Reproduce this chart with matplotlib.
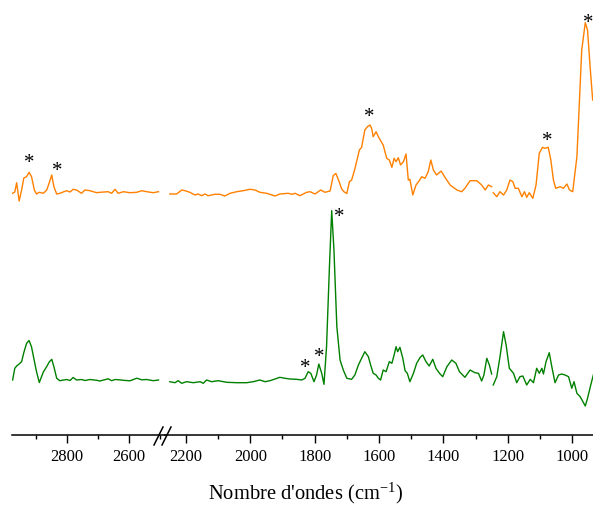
import numpy as np
import matplotlib
matplotlib.use("Agg")
import matplotlib.pyplot as plt
from matplotlib.lines import Line2D

plt.rcParams['font.family'] = ['Liberation Serif', 'DejaVu Serif']
plt.rcParams['mathtext.fontset'] = 'custom'
plt.rcParams['mathtext.rm'] = 'Liberation Serif'
plt.rcParams['mathtext.it'] = 'Liberation Serif:italic'

nan = np.nan

# ---------------- data (wavenumber cm-1, intensity a.u.) ----------------
wn_left = [2975, 2968, 2962, 2954, 2946, 2939, 2930, 2922, 2914, 2905,
           2898, 2889, 2876, 2865, 2857, 2849, 2842, 2833, 2823, 2801,
           2790, 2780, 2769, 2753, 2742, 2726, 2704, 2694, 2667, 2656,
           2645, 2635, 2618, 2597, 2575, 2559, 2543, 2522, 2505]
orange_left = [241.7, 243, 252.3, 234, 245, 257, 258.3, 262.7, 258.3, 245,
               241, 242.7, 241.7, 245, 252.3, 260, 248.3, 241, 241.7, 244.3,
               243, 245.7, 245, 241.7, 245, 244.3, 242.3, 242.7, 243.3, 241.7,
               245.7, 241.7, 243.3, 242.3, 242.7, 244.3, 243.3, 242.3, 243.3]
green_left = [55, 66.7, 69, 71, 73.3, 82.3, 91.7, 94.5, 88, 74,
              63.3, 52.5, 63, 68.5, 73, 75.7, 68.3, 56.7, 54.3, 55.5,
              54.5, 57.5, 55, 55.5, 54.5, 55.5, 54.7, 54, 56.2, 54.3,
              55.5, 55.3, 54.7, 54.2, 56.8, 55.2, 55.5, 54.3, 55]

wn_orange_right = [2250, 2229, 2213, 2203, 2188, 2172, 2162, 2151, 2141, 2131,
                   2110, 2094, 2079, 2063, 2042, 2022, 2001, 1985, 1970, 1949,
                   1923, 1908, 1882, 1871, 1861, 1846, 1825, 1814, 1799, 1781,
                   1768, 1752, 1742, 1734, 1724, 1716, 1709, 1700, 1692, 1685,
                   1675, 1661, 1654, 1644, 1636, 1628, 1623, 1618, 1609, 1602,
                   1595, 1587, 1576, 1568, 1560, 1553, 1547, 1540, 1533, 1524,
                   1516, 1509, 1504, 1495, 1485, 1475, 1467, 1457, 1447, 1439,
                   1431, 1421, 1407, 1395, 1379, 1358, 1343, 1333, 1317, 1296,
                   1281, 1270, 1260, 1250, 1248, 1245, 1234, 1224, 1213, 1203,
                   1193, 1184, 1177, 1167, 1156, 1148, 1141, 1133, 1122, 1112,
                   1102, 1092, 1084, 1074, 1066, 1058, 1051, 1037, 1027, 1016,
                   1008, 998, 985, 977, 970, 959, 952, 944, 936]
orange_right = [241, 241, 245, 244.3, 242.7, 240, 241, 239.3, 241, 239.3,
                240.7, 240.7, 239, 241.7, 243.3, 244.3, 245.7, 245, 242.7, 241.7,
                239, 241, 241.7, 240.7, 241.7, 239.3, 242.7, 243.3, 241, 245,
                242.7, 244, 259.5, 261.5, 253.5, 246, 243.3, 241.5, 253.3, 255,
                266, 285, 287.7, 305, 308.3, 310, 306.7, 298.3, 303.3, 298.3,
                294.3, 290, 276.7, 275, 267.7, 276.7, 273.3, 277.3, 270, 273.3,
                281, 255, 255.7, 240, 250, 254.3, 258.3, 256.7, 263.3, 275,
                265, 260, 264, 257.7, 250, 245, 243.3, 246.7, 254.3, 254.3,
                250, 245, 250, 248.3, nan, 242.3, 238.3, 243.3, 240, 245,
                255, 253.3, 246.7, 246.7, 238.3, 243.3, 237.7, 242.3, 236.7, 250,
                281.7, 287.7, 286.7, 287.7, 275, 255, 246.7, 248.3, 246.7, 251,
                245, 243.3, 278.3, 335, 385, 412.3, 405, 368.3, 335]

wn_green_right = [2250, 2234, 2224, 2213, 2198, 2177, 2156, 2146, 2136, 2120,
                  2100, 2073, 2042, 2011, 1991, 1970, 1954, 1939, 1923, 1908,
                  1892, 1877, 1856, 1840, 1830, 1820, 1812, 1802, 1794, 1787,
                  1778, 1771, 1763, 1754, 1747, 1740, 1731, 1721, 1711, 1700,
                  1685, 1675, 1664, 1654, 1644, 1633, 1626, 1618, 1609, 1602,
                  1595, 1587, 1578, 1568, 1560, 1553, 1547, 1542, 1535, 1526,
                  1519, 1512, 1504, 1493, 1483, 1472, 1464, 1454, 1444, 1433,
                  1423, 1412, 1402, 1389, 1374, 1361, 1350, 1333, 1317, 1302,
                  1291, 1281, 1274, 1265, 1257, 1250, 1248, 1245, 1234, 1224,
                  1213, 1205, 1195, 1182, 1172, 1162, 1153, 1141, 1130, 1120,
                  1110, 1102, 1094, 1089, 1081, 1071, 1063, 1053, 1042, 1032,
                  1022, 1011, 1001, 994, 985, 975, 968, 959, 952, 942, 934]
green_right = [53.3, 52.3, 54.3, 51.7, 53.3, 52.3, 53.3, 51.7, 55, 53.3,
               54.3, 52.7, 52.3, 52.3, 53.3, 55, 53.3, 54.3, 56, 57.7,
               56.7, 56, 55.7, 55, 56.7, 63.3, 61.7, 53.3, 60, 71,
               61.7, 50.7, 88.3, 168.3, 224.3, 185, 108.3, 75, 65, 56.7,
               55.7, 60, 70, 76.7, 83.3, 78.3, 70, 61.7, 60, 56.7,
               55, 65, 63.3, 73.3, 71.7, 80, 88.3, 83.3, 87.7, 76.7,
               64.3, 61.7, 53.3, 61.7, 71.7, 77.7, 80, 73.3, 69, 75.7,
               66.7, 61.7, 58.3, 68.3, 75, 71.7, 63.3, 57.7, 65, 62.3,
               61.7, 54, 60, 76.7, 70, 61, nan, 50, 58.3, 78.3,
               103.3, 90, 66.7, 61.7, 52.3, 58.3, 59, 50, 55.7, 52.3,
               66.7, 61.7, 66.7, 61, 73.3, 82.3, 68.3, 52.3, 60, 61,
               60, 58.3, 46.7, 53.3, 41.7, 38.3, 34.3, 29, 36.7, 50, 60]

star_orange_wn = [2923, 2831, 1630, 1077, 950]
star_orange_y = [272, 264, 317, 293, 412]
star_green_wn = [1830, 1786, 1724]
star_green_y = [66.5, 78, 217]

major_left = [2800, 2600]
minor_left = [2900, 2700, 2500]
major_right = [2200, 2000, 1800, 1600, 1400, 1200, 1000]
minor_right = [2100, 1900, 1700, 1500, 1300, 1100]

ORANGE = '#ff8000'
GREEN = '#008000'

# ---------------- figure ----------------
W, H = 593, 505
fig = plt.figure(figsize=(W / 100, H / 100), dpi=100)
x_break = 165
ax1 = fig.add_axes([12 / W, 70 / H, (x_break - 12) / W, 435 / H])
ax2 = fig.add_axes([x_break / W, 70 / H, (W - x_break) / W, 435 / H])

ax1.plot(wn_left, orange_left, color=ORANGE, lw=1.0)
ax1.plot(wn_left, green_left, color=GREEN, lw=1.0)
ax2.plot(wn_orange_right, orange_right, color=ORANGE, lw=1.0)
ax2.plot(wn_green_right, green_right, color=GREEN, lw=1.0)

ax1.set_xlim(2977, 2484)
ax2.set_xlim(2265, 935)
for ax in (ax1, ax2):
    ax.set_ylim(0, 435)
    for s in ('top', 'right', 'left'):
        ax.spines[s].set_visible(False)
    ax.spines['bottom'].set_linewidth(1.1)
    ax.set_yticks([])
    ax.patch.set_alpha(0)
    ax.tick_params(axis='x', which='major', direction='out', length=6,
                   width=1.0, labelsize=12, pad=4)
    ax.tick_params(axis='x', which='minor', direction='out', length=3,
                   width=1.0)

ax1.set_xticks(major_left)
ax1.set_xticks(minor_left, minor=True)
ax2.set_xticks(major_right)
ax2.set_xticks(minor_right, minor=True)

for wn, y in zip(star_orange_wn, star_orange_y):
    ax = ax1 if wn > 2400 else ax2
    ax.text(wn, y, '*', ha='center', va='center', fontsize=15, clip_on=False)
for wn, y in zip(star_green_wn, star_green_y):
    ax = ax1 if wn > 2400 else ax2
    ax.text(wn, y, '*', ha='center', va='center', fontsize=15, clip_on=False)

# axis break marks
for x0 in (154, 162):
    fig.add_artist(Line2D([x0 / W, (x0 + 9) / W],
                          [(H - 445) / H, (H - 427) / H],
                          color='black', lw=1.1))

fig.text(305 / W, (H - 493) / H, "Nombre d'ondes (cm$^{-1}$)",
         ha='center', va='center', fontsize=14.8)

fig.savefig('out.png', dpi=100)
